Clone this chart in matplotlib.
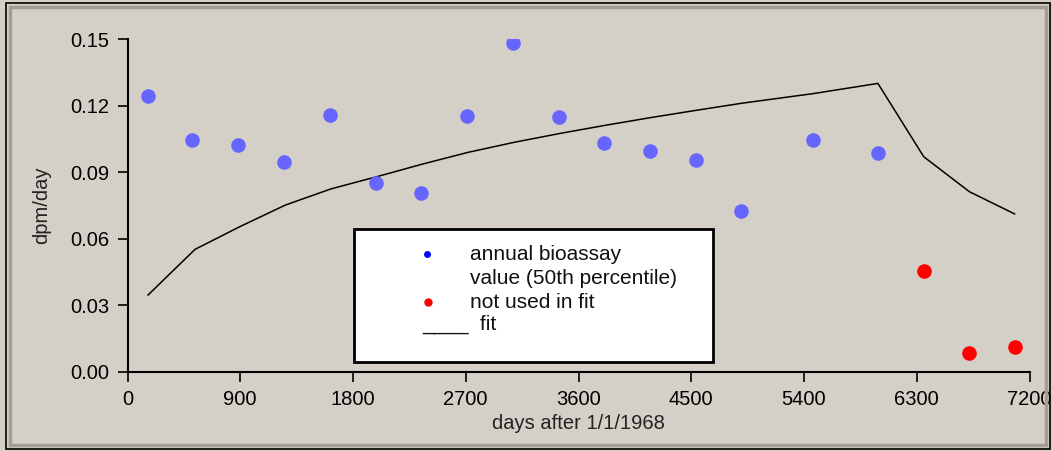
import matplotlib.pyplot as plt
from matplotlib.patches import Rectangle

# annual bioassay values (50th percentile) used in the fit
fit_days = [164, 515, 882, 1249, 1616, 1983, 2342, 2709, 3076, 3443,
            3802, 4169, 4537, 4896, 5470, 5989]
fit_vals = [0.1244, 0.1046, 0.1023, 0.0946, 0.1158, 0.0852, 0.0807, 0.1154,
            0.1483, 0.1149, 0.1032, 0.0996, 0.0955, 0.0725, 0.1046, 0.0988]

# values not used in fit
out_days = [6356, 6721, 7081]
out_vals = [0.0454, 0.0083, 0.0113]

# fitted curve
curve_days = [164, 539, 895, 1260, 1625, 1990, 2355, 2720, 3085, 3450,
              3815, 4180, 4545, 4910, 5475, 5990, 6356, 6721, 7081]
curve_vals = [0.0346, 0.0552, 0.0654, 0.0752, 0.0825, 0.0880, 0.0937, 0.0990,
              0.1035, 0.1075, 0.1112, 0.1147, 0.1180, 0.1212, 0.1255, 0.1301,
              0.0970, 0.0812, 0.0712]

xticks = [0, 900, 1800, 2700, 3600, 4500, 5400, 6300, 7200]
yticks = [0.00, 0.03, 0.06, 0.09, 0.12, 0.15]

bg = '#d4d0c8'
plt.rcParams['font.family'] = ['Liberation Sans', 'DejaVu Sans']

fig = plt.figure(figsize=(10.52, 4.51), dpi=100)
fig.patch.set_facecolor(bg)

# window-like frame
W, H = 1052.0, 451.0
fig.patches.append(Rectangle((6 / W, 2 / H), 1044 / W, 446 / H, transform=fig.transFigure,
                             fill=False, edgecolor='black', linewidth=1.2))
fig.patches.append(Rectangle((10 / W, 6 / H), 1036 / W, 438 / H, transform=fig.transFigure,
                             fill=False, edgecolor='#a29e92', linewidth=2.5))

ax = fig.add_axes([127.5 / W, 1 - 371.7 / H, 902 / W, 332.4 / H])
ax.set_facecolor(bg)

ax.plot(curve_days, curve_vals, color='black', linewidth=1.1, zorder=2)
ax.plot(fit_days, fit_vals, 'o', color='#6666ff', markersize=10.5, markeredgewidth=0, zorder=3)
ax.plot(out_days, out_vals, 'o', color='#ff0000', markersize=10.5, markeredgewidth=0, zorder=3)

ax.set_xlim(0, 7200)
ax.set_ylim(0, 0.15)
ax.set_xticks(xticks)
ax.set_xticklabels([str(t) for t in xticks])
ax.set_yticks(yticks)
ax.set_yticklabels(['%.2f' % t for t in yticks])
ax.tick_params(direction='out', length=7, width=1.2, labelsize=14.5, colors='black', pad=6)
for s in ['top', 'right']:
    ax.spines[s].set_visible(False)
for s in ['left', 'bottom']:
    ax.spines[s].set_linewidth(1.5)
ax.set_xlabel('days after 1/1/1968', fontsize=14.5, labelpad=4, color='#222222')
ax.set_ylabel('dpm/day', fontsize=14.5, labelpad=14, color='#222222')

# hand-drawn legend box
fig.patches.append(Rectangle((354 / W, 1 - 362 / H), 359 / W, 133 / H, transform=fig.transFigure,
                             facecolor='white', edgecolor='black', linewidth=2, zorder=5))
lx = 470 / W
fs = 15
fig.text(lx, 1 - 254 / H, 'annual bioassay', fontsize=fs, va='center', color='#111111', zorder=6)
fig.text(lx, 1 - 278 / H, 'value (50th percentile)', fontsize=fs, va='center', color='#111111', zorder=6)
fig.text(lx, 1 - 302 / H, 'not used in fit', fontsize=fs, va='center', color='#111111', zorder=6)
fig.text(422 / W, 1 - 324 / H, '____  fit', fontsize=fs, va='center', color='#111111', zorder=6)
fig.lines.append(plt.Line2D([427 / W], [1 - 254 / H], marker='o', color='#0000ff',
                            markersize=5, markeredgewidth=0, transform=fig.transFigure, zorder=6))
fig.lines.append(plt.Line2D([428 / W], [1 - 302 / H], marker='o', color='#ff0000',
                            markersize=6, markeredgewidth=0, transform=fig.transFigure, zorder=6))

fig.savefig('out.png', dpi=100, facecolor=bg)
